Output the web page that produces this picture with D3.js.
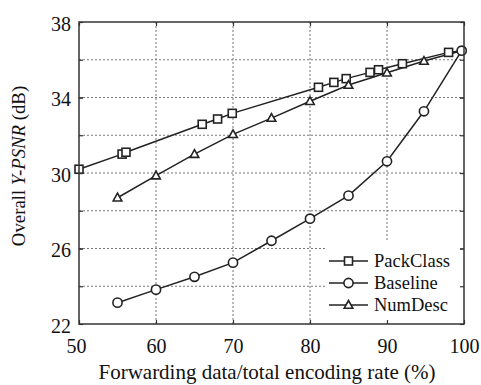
<!DOCTYPE html>
<html><head><meta charset="utf-8">
<script src="https://cdn.jsdelivr.net/npm/d3@7"></script>
<style>body{margin:0;background:#fff}svg{display:block}text{font-family:"Liberation Serif","Times New Roman",serif;fill:#111}</style>
</head><body><svg id="c" width="481" height="385"></svg>
<script>
const packX = [50, 55.6, 56.1, 66.0, 68.0, 69.9, 81.1, 83.1, 84.7, 87.8, 88.9, 92.0, 98.0];
const packY = [30.2, 31.0, 31.1, 32.58, 32.86, 33.16, 34.54, 34.8, 35.0, 35.33, 35.47, 35.79, 36.39];
const baseX = [55, 60, 65, 70, 75, 80, 85, 90, 94.8, 99.7];
const baseY = [23.13, 23.82, 24.5, 25.25, 26.41, 27.58, 28.8, 30.62, 33.27, 36.48];
const numX = [55, 60, 65, 70, 75, 80, 85, 90, 94.8];
const numY = [28.69, 29.86, 31.0, 32.05, 32.91, 33.8, 34.66, 35.31, 35.93];
const xTicks = [50, 60, 70, 80, 90, 100];
const yTicks = [22, 26, 30, 34, 38];
const yGrid = [24, 26, 28, 30, 32, 34, 36];
const seriesNames = ["PackClass", "Baseline", "NumDesc"];

const svg = d3.select("#c");
const L = 79, R = 464, T = 22, B = 324;
const x = d3.scaleLinear().domain([50, 100]).range([L, R]);
const y = d3.scaleLinear().domain([22, 38]).range([B, T]);
const ink = "#222";

// grid
const g = svg.append("g");
g.selectAll(".gx").data(xTicks.slice(1, -1)).join("line")
  .attr("x1", d => x(d)).attr("x2", d => x(d)).attr("y1", T).attr("y2", B)
  .attr("stroke", "#777").attr("stroke-width", 1).attr("stroke-dasharray", "2,2");
g.selectAll(".gy").data(yGrid).join("line")
  .attr("y1", d => y(d)).attr("y2", d => y(d)).attr("x1", L).attr("x2", R)
  .attr("stroke", "#777").attr("stroke-width", 1).attr("stroke-dasharray", "2,2");

// series
const mk = (xs, ys) => xs.map((v, i) => [v, ys[i]]);
const base = mk(baseX, baseY);
const endPt = base[base.length - 1];
const series = [
  {name: seriesNames[0], pts: mk(packX, packY), line: mk(packX, packY).concat([endPt]), m: "square"},
  {name: seriesNames[1], pts: base, line: base, m: "circle"},
  {name: seriesNames[2], pts: mk(numX, numY), line: mk(numX, numY).concat([endPt]), m: "triangle"}
];
const line = d3.line().x(d => x(d[0])).y(d => y(d[1]));
function marker(sel, type) {
  if (type === "square") sel.append("rect").attr("x", -4).attr("y", -4).attr("width", 8).attr("height", 8);
  else if (type === "circle") sel.append("circle").attr("r", 4.6);
  else sel.append("path").attr("d", "M0,-4.5L4.3,3.2L-4.3,3.2Z");
  sel.selectAll("*").attr("fill", "#fff").attr("stroke", ink).attr("stroke-width", 1.6);
}
const order = [0, 2, 1];
order.forEach(i => {
  const s = series[i];
  svg.append("path").datum(s.line).attr("d", line).attr("fill", "none").attr("stroke", ink).attr("stroke-width", 1.5);
});
order.forEach(i => {
  const s = series[i];
  s.pts.forEach(p => {
    const gg = svg.append("g").attr("transform", `translate(${x(p[0])},${y(p[1])})`);
    marker(gg, s.m);
  });
});

// legend
const lg = svg.append("g");
lg.append("rect").attr("x", 325).attr("y", 240).attr("width", R - 325).attr("height", B - 240).attr("fill", "#fff");
series.forEach((s, i) => {
  const yy = 261 + i * 22;
  lg.append("line").attr("x1", 329).attr("x2", 368).attr("y1", yy).attr("y2", yy).attr("stroke", ink).attr("stroke-width", 1.5);
  const gg = lg.append("g").attr("transform", `translate(348.5,${yy})`);
  marker(gg, s.m);
  lg.append("text").attr("x", 374).attr("y", yy + 6).attr("font-size", 18.5).text(s.name);
});

// frame and ticks
svg.append("rect").attr("x", L).attr("y", T).attr("width", R - L).attr("height", B - T)
  .attr("fill", "none").attr("stroke", "#333").attr("stroke-width", 1.5);
const xa = svg.append("g").attr("transform", `translate(0,${B})`)
  .call(d3.axisBottom(x).tickValues(xTicks).tickSize(-4).tickPadding(15).tickFormat(d3.format("d")));
const xt = svg.append("g").attr("transform", `translate(0,${T})`)
  .call(d3.axisTop(x).tickValues(xTicks).tickSize(-4).tickFormat(""));
const ya = svg.append("g").attr("transform", `translate(${L},0)`)
  .call(d3.axisLeft(y).tickValues(yTicks).tickSize(-4).tickPadding(8).tickFormat(d3.format("d")));
const yr = svg.append("g").attr("transform", `translate(${R},0)`)
  .call(d3.axisRight(y).tickValues(yGrid.concat(yTicks)).tickSize(-4).tickFormat(""));
[xa, xt, ya, yr].forEach(a => {
  a.select(".domain").remove();
  a.selectAll(".tick line").attr("stroke", "#333").attr("stroke-width", 1.2);
  a.selectAll("text").attr("font-size", 20).attr("fill", "#111").attr("font-family", '"Liberation Serif",serif');
});
ya.selectAll("text").attr("dy", "0.42em");
xa.selectAll("text").attr("dx", (d, i) => i === 0 ? -3 : 0);
svg.append("g").attr("transform", `translate(${L},0)`)
  .call(d3.axisRight(y).tickValues(yGrid).tickSize(4).tickFormat(""))
  .call(a => { a.select(".domain").remove(); a.selectAll("line").attr("stroke", "#333").attr("stroke-width", 1.2); });

// axis titles
svg.append("text").attr("x", 267).attr("y", 379).attr("text-anchor", "middle").attr("font-size", 21)
  .text("Forwarding data/total encoding rate (%)");
const yl = svg.append("text").attr("transform", `translate(25,166) rotate(-90)`)
  .attr("text-anchor", "middle").attr("font-size", 18.8);
yl.append("tspan").text("Overall ");
yl.append("tspan").attr("font-style", "italic").text("Y-PSNR");
yl.append("tspan").text(" (dB)");
</script></body></html>
